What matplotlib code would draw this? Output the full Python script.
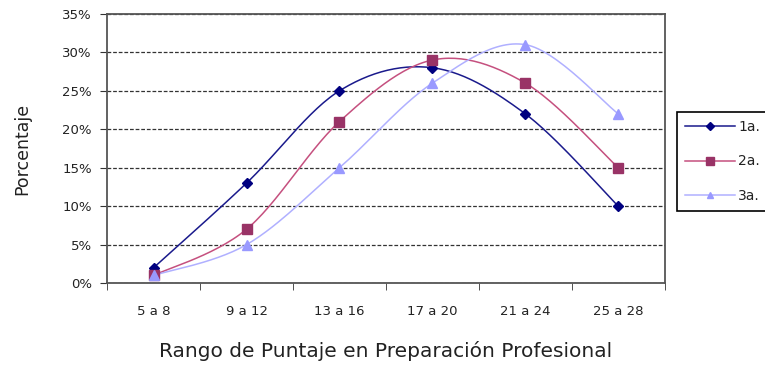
import numpy as np
import matplotlib.pyplot as plt
from matplotlib.ticker import PercentFormatter

plt.rcParams['font.family'] = ['DejaVu Sans']

categorias = ["5 a 8", "9 a 12", "13 a 16", "17 a 20", "21 a 24", "25 a 28"]
serie_1a = [2, 13, 25, 28, 22, 10]
serie_2a = [1, 7, 21, 29, 26, 15]
serie_3a = [1, 5, 15, 26, 31, 22]
nombres = ["1a.", "2a.", "3a."]


def suavizar(x, y, n=30):
    # curva tipo Excel (Bezier con puntos de control Catmull-Rom)
    x = np.asarray(x, float)
    y = np.asarray(y, float)
    px = np.concatenate([[x[0]], x, [x[-1]]])
    py = np.concatenate([[y[0]], y, [y[-1]]])
    xs, ys = [], []
    t = np.linspace(0, 1, n)
    for i in range(len(x) - 1):
        p0 = np.array([px[i + 1], py[i + 1]])
        p3 = np.array([px[i + 2], py[i + 2]])
        c1 = p0 + (np.array([px[i + 2], py[i + 2]]) - np.array([px[i], py[i]])) / 6
        c2 = p3 - (np.array([px[i + 3], py[i + 3]]) - np.array([px[i + 1], py[i + 1]])) / 6
        pts = ((1 - t) ** 3)[:, None] * p0 + (3 * (1 - t) ** 2 * t)[:, None] * c1 \
            + (3 * (1 - t) * t ** 2)[:, None] * c2 + (t ** 3)[:, None] * p3
        xs.extend(pts[:, 0])
        ys.extend(pts[:, 1])
    return xs, ys


fig = plt.figure(figsize=(7.65, 3.75), dpi=100)
ax = fig.add_axes([0.140, 0.245, 0.729, 0.718])

x = np.arange(len(categorias))
colores = ["#000080", "#993366", "#9999FF"]
colores_linea = ["#1a1a8c", "#c5507f", "#b0b0ff"]
marcadores = ["D", "s", "^"]
tamanos = [5.5, 7, 6.5]

for datos, nombre, col, cl, m, ms in zip([serie_1a, serie_2a, serie_3a], nombres, colores,
                                         colores_linea, marcadores, tamanos):
    sx, sy = suavizar(x, datos)
    ax.plot(sx, sy, color=cl, lw=1.1, zorder=3)
    ax.plot(x, datos, ls="none", marker=m, ms=ms, color=col, zorder=4)
    ax.plot([], [], color=cl, lw=1.1, marker=m, ms=ms - 1.5, mfc=col, mec=col, label=nombre)

ax.set_xlim(-0.5, 5.5)
ax.set_ylim(0, 35)
ax.set_yticks(range(0, 36, 5))
ax.yaxis.set_major_formatter(PercentFormatter(decimals=0))
ax.set_xticks(x)
ax.set_xticklabels(categorias)
ax.set_xticks(np.arange(-0.5, 6, 1), minor=True)
ax.tick_params(axis="x", which="major", length=0, pad=16, labelsize=9.5, labelcolor="#222222")
ax.tick_params(axis="x", which="minor", length=5, direction="out", color="#333333")
ax.tick_params(axis="y", length=5, direction="out", labelsize=9.5, color="#333333",
               labelcolor="#222222", pad=6)

ax.grid(axis="y", color="#333333", ls=(0, (3, 1.5)), lw=0.9)
for s in ax.spines.values():
    s.set_color("#555555")
    s.set_linewidth(1.3)

ax.set_xlabel("Rango de Puntaje en Preparación Profesional", fontsize=14.5, labelpad=16,
              color="#222222")
ax.set_ylabel("Porcentaje", fontsize=12.5, labelpad=22, color="#222222")

leg = fig.legend(loc="upper left", bbox_to_anchor=(677 / 765, 1 - 112 / 375), fontsize=10,
                 fancybox=False, edgecolor="black", framealpha=1, borderaxespad=0,
                 handlelength=3.6, handletextpad=0.25, labelspacing=1.5, borderpad=0.55)
leg.get_frame().set_linewidth(1.2)
for t in leg.get_texts():
    t.set_color("#222222")

fig.savefig("out.png", dpi=100)
